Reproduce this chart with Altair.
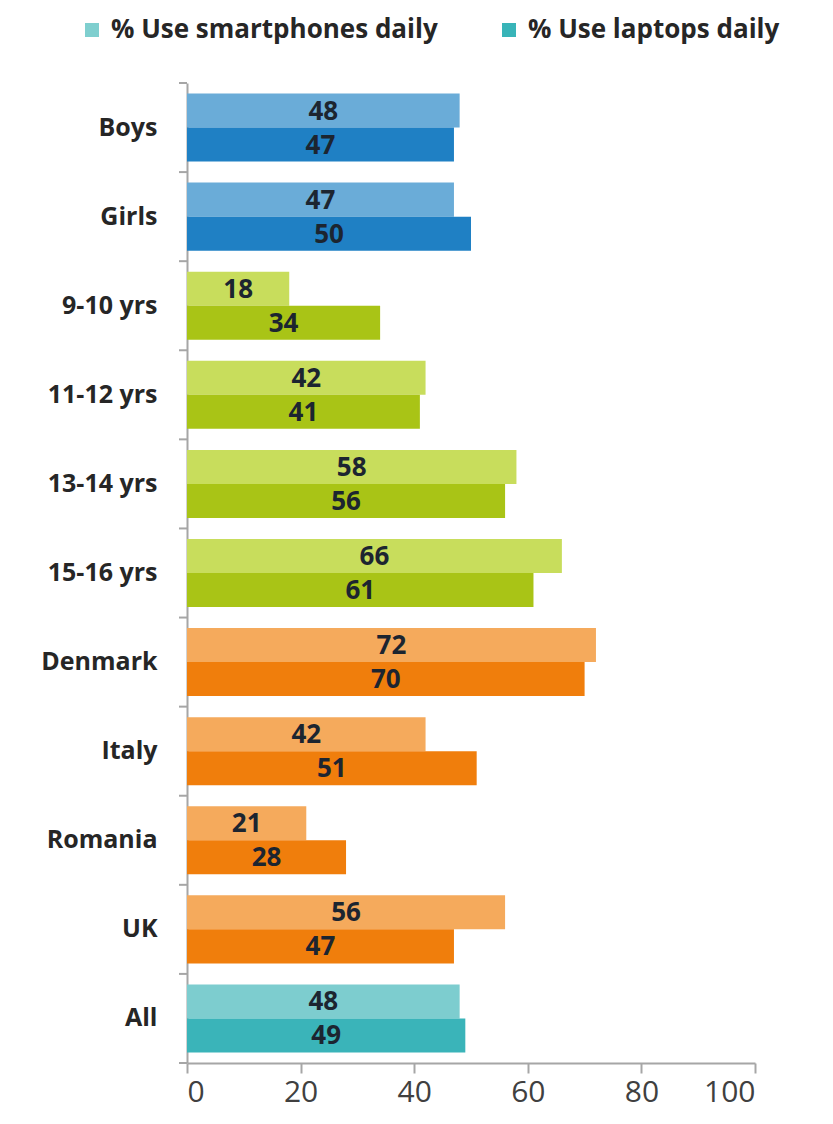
import altair as alt
import pandas as pd

categories = ["Boys", "Girls", "9-10 yrs", "11-12 yrs", "13-14 yrs", "15-16 yrs",
              "Denmark", "Italy", "Romania", "UK", "All"]
groups = ["gender", "gender", "age", "age", "age", "age",
          "country", "country", "country", "country", "all"]
smartphones = [48, 47, 18, 42, 58, 66, 72, 42, 21, 56, 48]
laptops = [47, 50, 34, 41, 56, 61, 70, 51, 28, 47, 49]
series = ["% Use smartphones daily", "% Use laptops daily"]

color_keys = ["gender|s", "gender|l", "age|s", "age|l",
              "country|s", "country|l", "all|s", "all|l"]
color_values = ["#6aacd8", "#1f80c4", "#c8dd5c", "#a9c416",
                "#f5aa5c", "#f07e0c", "#7dcdcf", "#3ab4b9"]
legend_colors = ["#7fcfcf", "#38b4b8"]

rows = []
for c, g, s, l in zip(categories, groups, smartphones, laptops):
    rows.append({"cat": c, "series": series[0], "value": s, "key": g + "|s"})
    rows.append({"cat": c, "series": series[1], "value": l, "key": g + "|l"})
df = pd.DataFrame(rows)
cat_df = pd.DataFrame({"cat": categories})

FONT = "Open Sans"
GRAY = "#a6a6a6"

y_axis = alt.Axis(title=None, ticks=False, tickSize=0, labelPadding=30,
                  labelFont=FONT, labelFontWeight="bold", labelFontSize=25,
                  labelColor="#262626", domainColor=GRAY, domainWidth=2,
                  labelLimit=300)
y_scale = alt.Scale(paddingInner=0.236, paddingOuter=0.118)
x_axis = alt.Axis(title=None, values=[0, 20, 40, 60, 80, 100], tickSize=10,
                  tickColor=GRAY, tickWidth=2, domainColor=GRAY, domainWidth=2,
                  labelFont=FONT, labelFontSize=30, labelColor="#404040",
                  labelPadding=4, grid=False)
x_scale = alt.Scale(domain=[0, 100], nice=False)
yoff = alt.YOffset("series:N", sort=series,
                   scale=alt.Scale(paddingInner=0, paddingOuter=0))

bars = alt.Chart(df).mark_bar().encode(
    y=alt.Y("cat:N", sort=categories, scale=y_scale, axis=y_axis),
    yOffset=yoff,
    x=alt.X("value:Q", scale=x_scale, axis=x_axis),
    color=alt.Color("key:N", scale=alt.Scale(domain=color_keys, range=color_values),
                    legend=None),
)

text = alt.Chart(df).transform_calculate(mid="datum.value / 2").mark_text(
    font=FONT, fontWeight="bold", fontSize=26, color="#1c2530",
    baseline="middle", align="center", dy=1
).encode(
    y=alt.Y("cat:N", sort=categories, scale=y_scale, axis=y_axis),
    yOffset=yoff,
    x=alt.X("mid:Q", scale=x_scale, axis=x_axis),
    text=alt.Text("value:Q"),
)

tick_scale = alt.Scale(paddingInner=0, paddingOuter=0)
ticks_top = alt.Chart(cat_df).mark_rule(color=GRAY, strokeWidth=2).encode(
    y=alt.Y("cat:N", sort=categories, scale=tick_scale, bandPosition=0, axis=None),
    x=alt.value(-8), x2=alt.value(0),
)
ticks_bottom = alt.Chart(cat_df).transform_filter(
    alt.datum.cat == categories[-1]
).mark_rule(color=GRAY, strokeWidth=2).encode(
    y=alt.Y("cat:N", sort=categories, scale=tick_scale, bandPosition=1, axis=None),
    x=alt.value(-8), x2=alt.value(0),
)
ticks = alt.layer(ticks_top, ticks_bottom)

legend_layer = alt.Chart(df).mark_square(opacity=0).encode(
    color=alt.Color("series:N", sort=series,
                    scale=alt.Scale(domain=series, range=legend_colors),
                    legend=alt.Legend(title=None, orient="none", legendX=-108,
                                      legendY=-66, direction="horizontal",
                                      symbolType="square", symbolSize=196,
                                      symbolOpacity=1, symbolStrokeWidth=0,
                                      labelFont=FONT, labelFontWeight="bold",
                                      labelFontSize=26, labelColor="#262626",
                                      labelOffset=6, columnPadding=58,
                                      labelLimit=600, padding=0)),
)

chart = alt.layer(
    alt.layer(bars, text), ticks, legend_layer
).resolve_scale(
    y="independent", color="independent"
).properties(
    width=568, height=980,
    padding={"left": 179, "top": 75, "right": 70, "bottom": 53},
    autosize=alt.AutoSizeParams(type="none"),
    background="white",
).configure_view(stroke=None)

chart.save("out.html", embed_options={"renderer": "svg", "actions": False})
